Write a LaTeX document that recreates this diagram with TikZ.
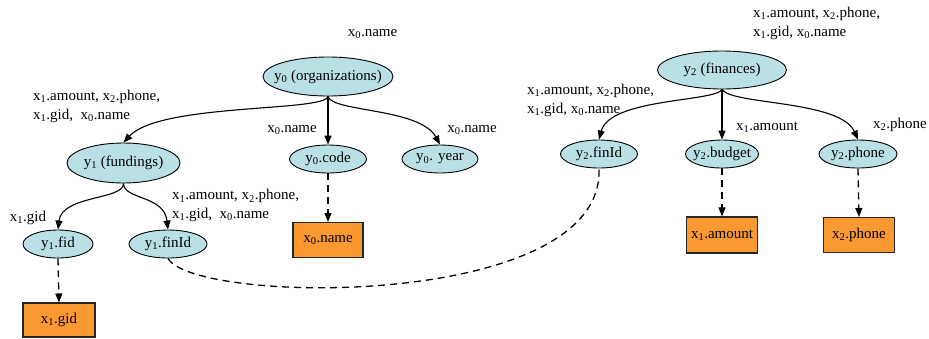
\documentclass[tikz,border=0pt]{standalone}
\usepackage{fontspec}
\setmainfont{Liberation Serif}
\usetikzlibrary{shapes.geometric,arrows.meta}
\definecolor{nodeblue}{RGB}{185,224,228}
\definecolor{boxorange}{RGB}{250,153,50}
\newcommand{\zb}[1]{\makebox[0pt]{#1}}
\newcommand{\xs}[1]{x\textsubscript{#1}}
\newcommand{\ys}[1]{y\textsubscript{#1}}
\begin{document}
\begin{tikzpicture}[x=1pt,y=-1pt,
  every node/.style={font=\fontsize{15}{18.5}\selectfont},
  ent/.style={ellipse, draw=black, line width=0.9pt, fill=nodeblue, inner sep=0pt},
  sm/.style={minimum height=28pt},
  val/.style={rectangle, draw=black!85, line width=1.1pt, fill=boxorange, inner sep=0pt},
  lbl/.style={inner sep=0pt},
  edg/.style={line width=1.1pt, -{Triangle[length=9pt,width=7pt]}},
  dsh/.style={line width=1.3pt, dash pattern=on 7pt off 5pt},
  dsharr/.style={dsh, -{Triangle[length=9pt,width=7pt]}}
]
\useasboundingbox (0,0) rectangle (929,338);

% entity nodes
\node[ent, minimum width=130pt, minimum height=39pt] (y0) at (328,76.5) {\zb{\ys{0} (organizations)}};
\node[ent, minimum width=113pt, minimum height=40pt] (y1) at (123.5,163) {\zb{\ys{1} (fundings)}};
\node[ent, sm, minimum width=77pt] (y0c) at (328,159) {\zb{\ys{0}.code}};
\node[ent, sm, minimum width=76pt] (y0y) at (440,159) {\zb{\ys{0}. year}};
\node[ent, sm, minimum width=70pt] (y1f) at (58,244) {\zb{\ys{1}.fid}};
\node[ent, sm, minimum width=78pt] (y1i) at (168,244) {\zb{\ys{1}.finId}};
\node[ent, minimum width=129pt, minimum height=38pt] (y2) at (722,70) {\zb{\ys{2} (finances)}};
\node[ent, sm, minimum width=77pt] (y2i) at (599,154) {\zb{\ys{2}.finId}};
\node[ent, sm, minimum width=73pt] (y2b) at (722,154) {\zb{\ys{2}.budget}};
\node[ent, sm, minimum width=78pt] (y2p) at (858,154) {\zb{\ys{2}.phone}};

% value boxes
\node[val, minimum width=72pt, minimum height=34pt] (bgid) at (59,320) {\xs{1}.gid};
\node[val, minimum width=70pt, minimum height=35pt] (bname) at (328,240) {\xs{0}.name};
\node[val, minimum width=71pt, minimum height=36pt] (bamt) at (722,235) {\xs{1}.amount};
\node[val, minimum width=71pt, minimum height=35pt] (bph) at (859,235) {\xs{2}.phone};

% labels
\node[lbl] (l0) at (372.5,34) {\xs{0}.name};
\node[lbl, anchor=west, align=left] (l1) at (33,106.5) {\xs{1}.amount, \xs{2}.phone,\\\xs{1}.gid,\ \ \xs{0}.name};
\node[lbl] (l2) at (292,130) {\xs{0}.name};
\node[lbl] (l3) at (472,130) {\xs{0}.name};
\node[lbl] (l4) at (28,218) {\xs{1}.gid};
\node[lbl, anchor=west, align=left] (l5) at (172,205.5) {\xs{1}.amount, \xs{2}.phone,\\\xs{1}.gid,\ \ \xs{0}.name};
\node[lbl, anchor=west, align=left] (l6) at (753,23.5) {\xs{1}.amount, \xs{2}.phone,\\\xs{1}.gid, \xs{0}.name};
\node[lbl, anchor=west, align=left] (l7) at (527,100.5) {\xs{1}.amount, \xs{2}.phone,\\\xs{1}.gid, \xs{0}.name};
\node[lbl] (l8) at (767,127) {\xs{1}.amount};
\node[lbl] (l9) at (900,125) {\xs{2}.phone};

% edges
\draw[edg] (y0.south) .. controls (325,112) and (160,103) .. (y1.north);
\draw[edg] (y0.south) -- (y0c.north);
\draw[edg] (y0.south) .. controls (332,112) and (420,108) .. (y0y.north);
\draw[edg] (y1.south) .. controls (124,200) and (62,195) .. (y1f.north);
\draw[edg] (y1.south) .. controls (124,200) and (164,195) .. (y1i.north);
\draw[edg] (y2.south) .. controls (715,102) and (610,98) .. (y2i.north);
\draw[edg] (y2.south) -- (y2b.north);
\draw[edg] (y2.south) .. controls (732,105) and (840,100) .. (y2p.north);

% dashed links
\draw[dsharr] (y0c.south) -- (bname.north);
\draw[dsharr] (y1f.south) -- (bgid.north);
\draw[dsharr] (y2b.south) -- (bamt.north);
\draw[dsharr] (y2p.south) -- (bph.north);
\draw[dsh] (y1i.south) .. controls (195,305) and (605,310) .. (y2i.south);
\end{tikzpicture}
\end{document}
